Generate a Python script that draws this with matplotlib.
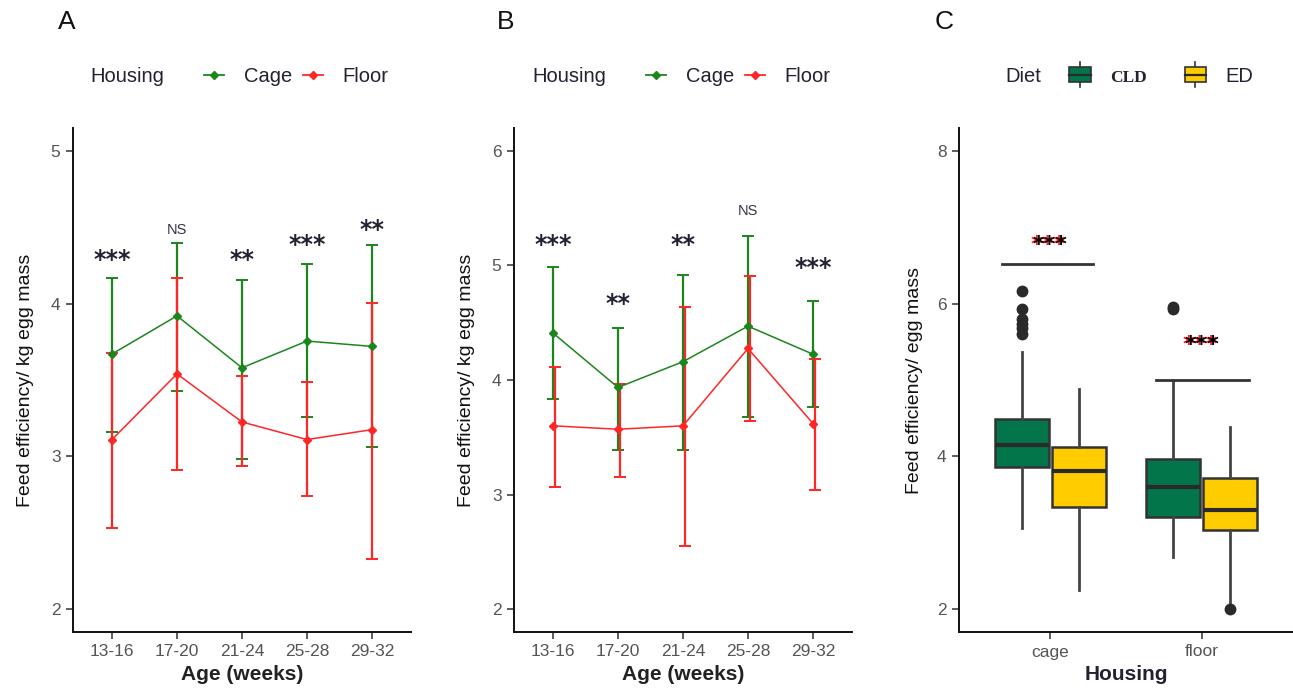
import matplotlib
matplotlib.use("Agg")
import matplotlib.pyplot as plt
from matplotlib.lines import Line2D
from matplotlib.patches import Rectangle, Patch
from matplotlib.legend_handler import HandlerBase

plt.rcParams['font.family'] = ['Liberation Sans', 'DejaVu Sans']

# ---------------- data ----------------
ages = ["13-16", "17-20", "21-24", "25-28", "29-32"]

A_cage_mean = [3.67, 3.92, 3.58, 3.755, 3.72]
A_cage_lo = [3.16, 3.43, 2.98, 3.26, 3.06]
A_cage_hi = [4.17, 4.395, 4.155, 4.26, 4.385]
A_floor_mean = [3.11, 3.54, 3.225, 3.11, 3.175]
A_floor_lo = [2.53, 2.91, 2.935, 2.74, 2.325]
A_floor_hi = [3.68, 4.17, 3.525, 3.49, 4.005]
A_sig = ["***", "NS", "**", "***", "**"]
A_sig_y = [4.33, 4.49, 4.33, 4.43, 4.53]

B_cage_mean = [4.41, 3.935, 4.16, 4.47, 4.225]
B_cage_lo = [3.83, 3.39, 3.39, 3.68, 3.765]
B_cage_hi = [4.99, 4.45, 4.92, 5.26, 4.69]
B_floor_mean = [3.60, 3.57, 3.60, 4.275, 3.62]
B_floor_lo = [3.07, 3.155, 2.555, 3.645, 3.04]
B_floor_hi = [4.115, 3.965, 4.64, 4.91, 4.18]
B_sig = ["***", "**", "**", "NS", "***"]
B_sig_y = [5.24, 4.73, 5.24, 5.49, 5.04]

housing = ["cage", "floor"]
diets = ["CLD", "ED"]
# box stats: whislo, q1, med, q3, whishi
CLD_whislo = [3.06, 2.677]
CLD_q1 = [3.866, 3.209]
CLD_med = [4.154, 3.597]
CLD_q3 = [4.493, 3.97]
CLD_whishi = [5.363, 4.99]
CLD_fliers = [[5.60, 5.675, 5.735, 5.80, 5.935, 6.16], [5.935, 5.95]]
ED_whislo = [2.254, 2.08]
ED_q1 = [3.333, 3.035]
ED_med = [3.806, 3.299]
ED_q3 = [4.119, 3.711]
ED_whishi = [4.881, 4.378]
ED_fliers = [[], [2.0]]
C_sig_y = [6.86, 5.55]
C_bracket_y = [6.52, 5.0]
C_bracket_x0 = [0.68, 1.70]
C_bracket_x1 = [1.28, 2.31]

# ---------------- style ----------------
GREEN = "#1c861c"
RED = "#ff2626"
CLD_COL = "#02754a"
ED_COL = "#ffcc00"
TICK_COL = "#555555"

W, H = 1293, 696
fig = plt.figure(figsize=(W / 100, H / 100), dpi=100)

def fx(px):
    return px / W

def fy(py):
    return 1 - py / H

top_px, bot_px = 128, 632
axA = fig.add_axes([fx(73), fy(bot_px), fx(411 - 73), (bot_px - top_px) / H])
axB = fig.add_axes([fx(514), fy(bot_px), fx(852 - 514), (bot_px - top_px) / H])
axC = fig.add_axes([fx(959), fy(bot_px), fx(1293 - 959), (bot_px - top_px) / H])


def style_axis(ax):
    for s in ["top", "right"]:
        ax.spines[s].set_visible(False)
    for s in ["left", "bottom"]:
        ax.spines[s].set_linewidth(1.4)
        ax.spines[s].set_color("#111111")
    ax.tick_params(axis="both", direction="out", length=5, width=1.1,
                   color="#333333", labelcolor=TICK_COL, labelsize=12.5, pad=4)


def star(ax, x, y, s, size, color="black", dx=0.0):
    fsz = size
    if "*" in s:
        ax.annotate(s, xy=(x, y), xytext=(dx, -0.6 * fsz), textcoords="offset points",
                    ha="center", va="baseline", fontsize=fsz, color=color,
                    family=["DejaVu Sans"], fontweight="bold")
    else:
        ax.annotate(s, xy=(x, y), xytext=(dx, -0.36 * fsz), textcoords="offset points",
                    ha="center", va="baseline", fontsize=fsz, color=color)


def line_panel(ax, cm, clo, chi, fm, flo, fhi, sig, sigy, ylim, yticks, dodge):
    x = list(range(1, len(ages) + 1))
    xf = [v + dodge for v in x]
    ax.errorbar(x, cm, yerr=[[m - l for m, l in zip(cm, clo)], [h - m for m, h in zip(cm, chi)]],
                fmt="none", ecolor=GREEN, elinewidth=1.6, capsize=4, capthick=1.4, zorder=2)
    ax.errorbar(xf, fm, yerr=[[m - l for m, l in zip(fm, flo)], [h - m for m, h in zip(fm, fhi)]],
                fmt="none", ecolor=RED, elinewidth=1.6, capsize=4, capthick=1.4, zorder=3)
    ax.plot(x, cm, color=GREEN, lw=1.1, marker="D", ms=4.5, zorder=4)
    ax.plot(x, fm, color=RED, lw=1.1, marker="D", ms=4.5, zorder=4)
    for xi, s, yv in zip(x, sig, sigy):
        if s == "NS":
            star(ax, xi, yv, s, 10.5, color="#333344")
        else:
            star(ax, xi, yv, s, 17, color="#222233")
    ax.set_xlim(0.4, len(ages) + 0.6)
    ax.set_ylim(*ylim)
    ax.set_xticks(x)
    ax.set_xticklabels(ages)
    ax.set_yticks(yticks)
    ax.set_ylabel("Feed efficiency/ kg egg mass", fontsize=14, color="#111111", labelpad=12)
    ax.set_xlabel("Age (weeks)", fontsize=15, fontweight="bold", color="#222222", labelpad=4)
    style_axis(ax)


line_panel(axA, A_cage_mean, A_cage_lo, A_cage_hi, A_floor_mean, A_floor_lo, A_floor_hi,
           A_sig, A_sig_y, (1.85, 5.15), [2, 3, 4, 5], 0.0)
line_panel(axB, B_cage_mean, B_cage_lo, B_cage_hi, B_floor_mean, B_floor_lo, B_floor_hi,
           B_sig, B_sig_y, (1.8, 6.2), [2, 3, 4, 5, 6], 0.035)

# ---------------- panel C ----------------
def mkstats(wl, q1, md, q3, wh, fl):
    return [dict(whislo=a, q1=b, med=c, q3=d, whishi=e, fliers=f)
            for a, b, c, d, e, f in zip(wl, q1, md, q3, wh, fl)]

cld_stats = mkstats(CLD_whislo, CLD_q1, CLD_med, CLD_q3, CLD_whishi, CLD_fliers)
ed_stats = mkstats(ED_whislo, ED_q1, ED_med, ED_q3, ED_whishi, ED_fliers)
xc = [1, 2]
bw = 0.355
common = dict(widths=bw, patch_artist=True, showcaps=False,
              whiskerprops=dict(color="#444444", lw=2.0),
              medianprops=dict(color="#2a2a2a", lw=3.0),
              flierprops=dict(marker="o", markerfacecolor="#2a2a2a", markeredgecolor="#2a2a2a",
                              markersize=7.5))
b1 = axC.bxp(cld_stats, positions=[v - 0.1875 for v in xc],
             boxprops=dict(facecolor=CLD_COL, edgecolor="#333333", lw=1.8), **common)
b2 = axC.bxp(ed_stats, positions=[v + 0.1875 for v in xc],
             boxprops=dict(facecolor=ED_COL, edgecolor="#333333", lw=1.8), **common)
for x0, x1, yb in zip(C_bracket_x0, C_bracket_x1, C_bracket_y):
    axC.plot([x0, x1], [yb, yb], color="#333333", lw=2.0)
for xi, ys in zip(xc, C_sig_y):
    star(axC, xi, ys, "***", 16, color="#ff2020", dx=-1.2)
    star(axC, xi, ys, "***", 16, color="black")
axC.set_xlim(0.4, 2.6)
axC.set_ylim(1.7, 8.3)
axC.set_xticks(xc)
axC.set_xticklabels(housing)
axC.set_yticks([2, 4, 6, 8])
axC.set_ylabel("Feed efficiency/ egg mass", fontsize=14, color="#111111", labelpad=10)
axC.set_xlabel("Housing", fontsize=15, fontweight="bold", color="#222233", labelpad=4)
style_axis(axC)

# ---------------- panel letters ----------------
for lab, px in zip(["A", "B", "C"], [58, 497, 935]):
    fig.text(fx(px), fy(22), lab, fontsize=19, ha="left", va="center", color="#111111")

# ---------------- legends ----------------
def housing_legend(ax, title_px, leg_px):
    fig.text(fx(title_px), fy(76), "Housing", fontsize=14.5, ha="left", va="center", color="#222233")
    hs = [Line2D([], [], color=GREEN, lw=1.3, marker="D", ms=4),
          Line2D([], [], color=RED, lw=1.3, marker="D", ms=4)]
    ax.legend(hs, ["Cage", "Floor"], ncol=2, frameon=False, loc="center left",
              bbox_to_anchor=(fx(leg_px), fy(77)), bbox_transform=fig.transFigure,
              fontsize=14.5, handlelength=1.0, handletextpad=1.0, columnspacing=0.5,
              borderpad=0, borderaxespad=0, labelcolor="#222233")

housing_legend(axA, 90, 204)
housing_legend(axB, 532, 646)


class BoxHandler(HandlerBase):
    def create_artists(self, legend, orig_handle, xdescent, ydescent, width, height, fontsize, trans):
        fc = orig_handle.get_facecolor()
        cx = width / 2 - xdescent
        bwid = width * 0.9
        r = Rectangle((cx - bwid / 2, -ydescent + height * 0.05), bwid, height * 0.9,
                      facecolor=fc, edgecolor="#333333", lw=1.2, transform=trans)
        m = Line2D([cx - bwid / 2, cx + bwid / 2], [height / 2 - ydescent] * 2,
                   color="#2a2a2a", lw=1.6, transform=trans)
        w1 = Line2D([cx, cx], [-ydescent - height * 0.25, -ydescent + height * 0.05],
                    color="#333333", lw=1.2, transform=trans)
        w2 = Line2D([cx, cx], [-ydescent + height * 0.95, -ydescent + height * 1.25],
                    color="#333333", lw=1.2, transform=trans)
        return [w1, w2, r, m]


fig.text(fx(1005), fy(76), "Diet", fontsize=14.5, ha="left", va="center", color="#222233")
dh = [Patch(facecolor=CLD_COL), Patch(facecolor=ED_COL)]
legC = axC.legend(dh, diets, ncol=2, frameon=False, loc="center left",
                  bbox_to_anchor=(fx(1068), fy(76)), bbox_transform=fig.transFigure,
                  fontsize=14.5, handlelength=1.2, handleheight=0.9, handletextpad=0.9,
                  columnspacing=1.8, borderpad=0, borderaxespad=0, labelcolor="#222233",
                  handler_map={Patch: BoxHandler()})
t0 = legC.get_texts()[0]
t0.set_fontfamily(["Liberation Serif", "DejaVu Serif"])
t0.set_fontweight("bold")
t0.set_fontsize(12.5)

fig.savefig("out.png", dpi=100)
